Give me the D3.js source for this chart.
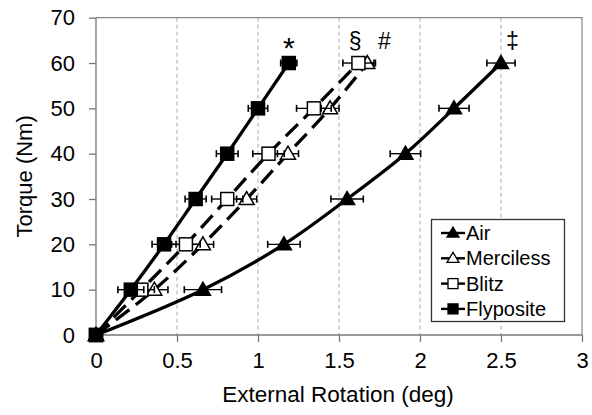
<!DOCTYPE html>
<html><head><meta charset="utf-8">
<script src="https://cdn.jsdelivr.net/npm/d3@7"></script>
<style>body{margin:0;background:#fff}svg{display:block}text{font-family:"Liberation Sans",Arial,sans-serif}</style>
</head><body><svg id="c" width="592" height="415"></svg>
<script>
const torque = [0, 10, 20, 30, 40, 50, 60];
const airX = [0, 0.66, 1.16, 1.55, 1.91, 2.21, 2.50];
const airErr = [0, 0.115, 0.10, 0.10, 0.094, 0.093, 0.087];
const mercX = [0, 0.36, 0.66, 0.93, 1.185, 1.445, 1.675];
const mercErr = [0, 0.084, 0.066, 0.062, 0.065, 0.055, 0.05];
const blitzX = [0, 0.28, 0.555, 0.81, 1.065, 1.345, 1.62];
const blitzErr = [0, 0.08, 0.088, 0.096, 0.097, 0.107, 0.096];
const flyX = [0, 0.215, 0.42, 0.615, 0.81, 1.0, 1.19];
const flyErr = [0, 0.08, 0.074, 0.065, 0.067, 0.06, 0.05];
const xTicks = [0, 0.5, 1, 1.5, 2, 2.5, 3];
const yTicks = [0, 10, 20, 30, 40, 50, 60, 70];
const seriesNames = ["Air", "Merciless", "Blitz", "Flyposite"];
const marks = [{label:"*", x:1.19, y:60}, {label:"§", x:1.6, y:60}, {label:"#", x:1.78, y:60}, {label:"‡", x:2.57, y:60}];

const svg = d3.select("#c");
const x = d3.scaleLinear().domain([0, 3]).range([96, 582]);
const y = d3.scaleLinear().domain([0, 70]).range([335, 17.7]);

svg.append("g").selectAll("line").data(xTicks.filter(d => d > 0 && d < 3)).join("line")
  .attr("x1", d => x(d)).attr("x2", d => x(d)).attr("y1", y(70)).attr("y2", y(0))
  .attr("stroke", "#aaa").attr("stroke-width", 1).attr("stroke-dasharray", "4,3");
svg.append("path").attr("d", `M${x(0)},${y(70)}H${x(3)}V${y(0)}`).attr("fill","none").attr("stroke","#888").attr("stroke-width",1.2);

const xAxis = svg.append("g").attr("transform", `translate(0,${y(0)})`)
  .call(d3.axisBottom(x).tickValues(xTicks).tickSize(7).tickPadding(10).tickFormat(d3.format("")));
const yAxis = svg.append("g").attr("transform", `translate(${x(0)},0)`)
  .call(d3.axisLeft(y).tickValues(yTicks).tickSize(7).tickPadding(14));
[xAxis, yAxis].forEach(a => {
  a.selectAll("path,line").attr("stroke", "#777").attr("stroke-width", 1.3);
  a.selectAll("text").attr("font-size", 22).attr("fill", "#000").style("font-family", '"Liberation Sans",Arial,sans-serif');
});
xAxis.select(".domain").attr("d", `M${x(0)},0H${x(3)}`);
yAxis.select(".domain").attr("d", `M0,${y(0)}V${y(70)}`);

svg.append("text").attr("x", 338).attr("y", 402).attr("text-anchor", "middle").attr("font-size", 22.5).text("External Rotation (deg)");
svg.append("text").attr("transform", `translate(32,${y(35)}) rotate(-90)`).attr("text-anchor", "middle").attr("font-size", 22).text("Torque (Nm)");

const series = [
  {name: seriesNames[0], xs: airX, err: airErr, shape: "tri", fill: "#000", dash: null},
  {name: seriesNames[1], xs: mercX, err: mercErr, shape: "tri", fill: "#fff", dash: "17,8"},
  {name: seriesNames[2], xs: blitzX, err: blitzErr, shape: "sq", fill: "#fff", dash: "17,8"},
  {name: seriesNames[3], xs: flyX, err: flyErr, shape: "sq", fill: "#000", dash: null},
];
const line = d3.line().x(d => x(d[0])).y(d => y(d[1])).curve(d3.curveCatmullRom.alpha(0.5));

function marker(g, shape, fill, cx, cy) {
  if (shape === "sq") {
    g.append("rect").attr("x", cx - 6.5).attr("y", cy - 6.5).attr("width", 13).attr("height", 13)
      .attr("fill", fill).attr("stroke", "#000").attr("stroke-width", 1.5);
  } else {
    g.append("path").attr("d", `M${cx},${cy-7.5}L${cx+7.5},${cy+5.5}L${cx-7.5},${cy+5.5}Z`)
      .attr("fill", fill).attr("stroke", "#000").attr("stroke-width", 1.5);
  }
}

series.forEach(s => {
  const pts = s.xs.map((v, i) => [v, torque[i]]);
  svg.append("path").attr("d", line(pts)).attr("fill", "none").attr("stroke", "#000")
    .attr("stroke-width", 3.3).attr("stroke-dasharray", s.dash);
});
series.forEach(s => {
  const g = svg.append("g");
  s.xs.forEach((v, i) => {
    if (s.err[i] > 0) {
      const yy = y(torque[i]);
      g.append("line").attr("x1", x(v - s.err[i])).attr("x2", x(v + s.err[i])).attr("y1", yy).attr("y2", yy).attr("stroke", "#000").attr("stroke-width", 1.4);
      [v - s.err[i], v + s.err[i]].forEach(e => g.append("line").attr("x1", x(e)).attr("x2", x(e)).attr("y1", yy - 3.5).attr("y2", yy + 3.5).attr("stroke", "#000").attr("stroke-width", 1.6));
    }
  });
  s.xs.forEach((v, i) => marker(g, s.shape, s.fill, x(v), y(torque[i])));
});

svg.selectAll(".mk").data(marks).join("text").attr("class", "mk")
  .attr("x", d => x(d.x)).attr("y", d => y(d.y) - (d.label === "*" ? 5 : 14))
  .attr("text-anchor", "middle").attr("font-size", d => d.label === "*" ? 30 : 23).text(d => d.label);

const lg = svg.append("g");
lg.append("rect").attr("x", 431.5).attr("y", 219.5).attr("width", 133).attr("height", 102).attr("fill", "#fff").attr("stroke", "#333").attr("stroke-width", 1.3);
series.forEach((s, i) => {
  const yy = 233 + i * 25.3;
  lg.append("line").attr("x1", 441).attr("x2", 465).attr("y1", yy).attr("y2", yy).attr("stroke", "#000").attr("stroke-width", 2.4);
  if (s.shape === "sq") lg.append("rect").attr("x", 448).attr("y", yy - 5).attr("width", 10).attr("height", 10).attr("fill", s.fill).attr("stroke", "#000").attr("stroke-width", 1.3);
  else lg.append("path").attr("d", `M453,${yy-6}L459,${yy+4}L447,${yy+4}Z`).attr("fill", s.fill).attr("stroke", "#000").attr("stroke-width", 1.3);
  lg.append("text").attr("x", 466).attr("y", yy + 7).attr("font-size", 20).text(s.name);
});
</script></body></html>
